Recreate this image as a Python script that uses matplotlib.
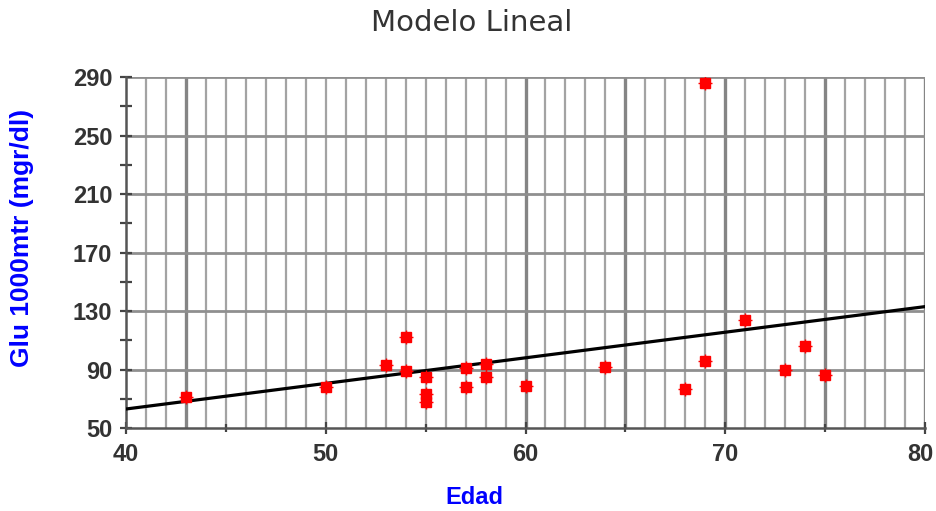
import matplotlib
matplotlib.use("Agg")
import matplotlib.pyplot as plt
from matplotlib import font_manager, transforms

# Edad vs glucosa a los 1000 m
edad = [43, 50, 53, 54, 54, 55, 55, 55, 57, 57, 58, 58, 60, 64, 68, 69, 69, 71, 73, 74, 75]
glu = [71, 78, 93, 112, 89, 85, 73, 68, 91, 78, 94, 85, 79, 92, 77, 96, 286, 124, 90, 106, 86]

# Recta del modelo lineal (extremos)
recta_edad = [40, 80]
recta_glu = [63, 133]

x_major = [40, 50, 60, 70, 80]
x_minor = [45, 55, 65, 75]
y_major = [50, 90, 130, 170, 210, 250, 290]
y_minor = [70, 110, 150, 190, 230, 270]

fam = ["Liberation Sans", "DejaVu Sans"]

fig = plt.figure(figsize=(9.37, 5.11), dpi=100)
ax = fig.add_axes([0.1345, 0.1624, 0.8527, 0.6869])
ax.set_xlim(40, 80)
ax.set_ylim(50, 290)

# Rejilla vertical: una línea por año, algunas más gruesas
thick = {43, 60, 65, 70, 75, 80}
for xv in range(41, 81):
    if xv in thick:
        ax.axvline(xv, color="#858585", lw=2.4, zorder=1)
    else:
        ax.axvline(xv, color="#a3a3a3", lw=1.6, zorder=1)
for yv in y_major[1:]:
    ax.axhline(yv, color="#8f8f8f", lw=2.0, zorder=1)

ax.plot(recta_edad, recta_glu, color="black", lw=2.3, zorder=3)
ax.plot(edad, glu, ls="none", marker="+", ms=10, mew=1.0, color="red", zorder=4)
ax.plot(edad, glu, ls="none", marker="s", ms=6.5, color="red", zorder=5)

for s in ["top", "right"]:
    ax.spines[s].set_visible(False)
for s in ["left", "bottom"]:
    ax.spines[s].set_color("#555555")
    ax.spines[s].set_linewidth(1.8)

ax.set_xticks(x_major)
ax.set_xticks(x_minor, minor=True)
ax.set_yticks(y_major)
ax.set_yticks(y_minor, minor=True)
ax.tick_params(axis="both", which="both", direction="inout", color="#444444", width=1.6)
ax.tick_params(axis="x", which="major", length=8)
ax.tick_params(axis="x", which="minor", length=6)
ax.tick_params(axis="y", which="both", length=8)
ax.tick_params(axis="x", pad=7)
ax.tick_params(axis="y", pad=6)
tick_fp = font_manager.FontProperties(family=fam, weight="bold", size=17)
for lab in ax.get_xticklabels() + ax.get_yticklabels():
    lab.set_fontproperties(tick_fp)
    lab.set_color("#333333")
# la última etiqueta del eje x queda pegada al borde derecho
last = ax.get_xticklabels()[-1]
last.set_transform(last.get_transform() +
                   transforms.ScaledTranslation(-3 / 72, 0, fig.dpi_scale_trans))

fig.text(0.503, 0.955, "Modelo Lineal", ha="center", va="center",
         fontsize=21, color="#333333", family=["DejaVu Sans"])
fig.text(0.506, 0.027, "Edad", ha="center", va="center",
         family=fam, weight="bold", size=17, color="#0000ff")
fig.text(0.024, 0.535, "Glu 1000mtr (mgr/dl)", ha="center", va="center",
         rotation=90, family=fam, weight="bold", size=19, color="#0000ff")

fig.savefig("out.png", dpi=100, facecolor="white")
